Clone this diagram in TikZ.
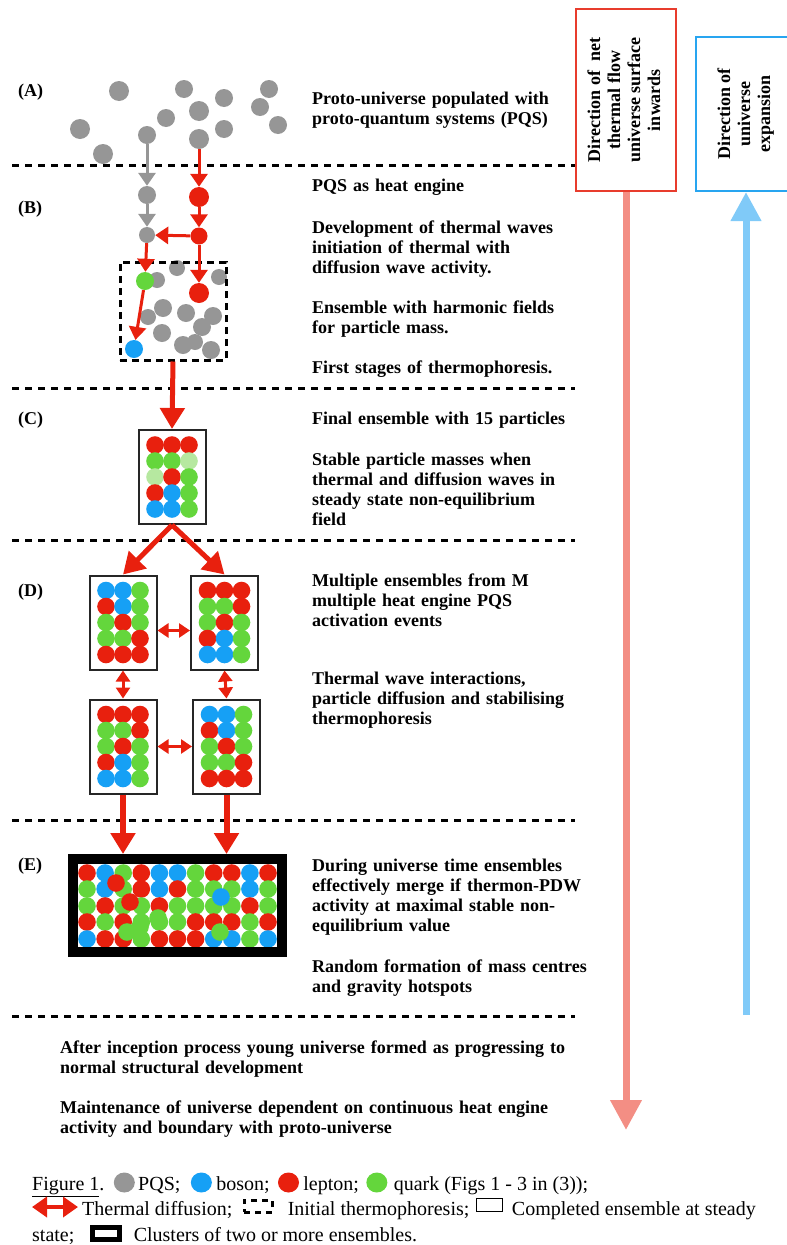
\documentclass[tikz,border=0pt]{standalone}
\usepackage{fontspec}
\setmainfont{Liberation Serif}
\usepackage{graphicx}
\usetikzlibrary{arrows.meta,positioning,shapes.geometric}

\definecolor{pqsgray}{RGB}{150,150,150}
\definecolor{boson}{RGB}{22,160,245}
\definecolor{lepton}{RGB}{232,32,14}
\definecolor{quark}{RGB}{100,214,60}
\definecolor{paleq}{RGB}{182,232,160}
\definecolor{flowred}{RGB}{232,60,45}
\definecolor{flowpink}{RGB}{243,142,132}
\definecolor{expblue}{RGB}{40,165,240}
\definecolor{skyblue}{RGB}{128,202,248}

% one ensemble: 5 rows of 3 particles, given row by row
\newcommand{\ensdots}[2]{%
  \foreach \col [count=\k from 0] in {#2} {%
    \pgfmathtruncatemacro{\rw}{int(\k/3)}%
    \pgfmathtruncatemacro{\cl}{\k-3*\rw}%
    \fill[\col] (#1) ++(\cl*17-17,\rw*16-32) circle (8.8pt);
  }}
% one row of the merged cluster
\newcommand{\mergedrow}[2]{%
  \foreach \col [count=\k from 0] in {#2} {\fill[\col] (87+\k*18.1,#1) circle (8.8pt);}}

\begin{document}
\begin{tikzpicture}[x=1pt, y=-1pt, >=Stealth,
    part/.style={circle, inner sep=0pt, minimum size=18pt},
    pqsflow/.style={draw=pqsgray, line width=3pt, -{Triangle[width=17pt,length=13pt]}},
    heat/.style={draw=lepton, line width=3pt, -{Triangle[width=17pt,length=13pt]}},
    feed/.style={draw=lepton, line width=5pt, -{Triangle[width=24pt,length=21pt]}},
    diffuse/.style={draw=lepton, line width=3pt, {Triangle[width=14pt,length=11pt]}-{Triangle[width=14pt,length=11pt]}},
    divider/.style={line width=3pt, dash pattern=on 7pt off 6pt},
    ensbox/.style={draw=black!85, line width=2pt, minimum width=67pt, minimum height=94pt, inner sep=0pt},
    desc/.style={font=\bfseries\fontsize{18}{20}\selectfont, text width=300pt, align=left, anchor=base west, inner sep=0pt},
    stage/.style={font=\bfseries\fontsize{18}{20}\selectfont, anchor=base west, inner sep=0pt},
    captext/.style={font=\fontsize{20}{25}\selectfont, inner sep=0pt, anchor=base west},
    keydot/.style={ellipse, inner sep=0pt, minimum width=21pt, minimum height=20pt, anchor=west}]
    \useasboundingbox (0,0) rectangle (787,1245);

    % Stage separators
    \foreach \yy in {165,388,540,820,1016}
        \draw[divider] (12,\yy) -- (575,\yy);

    % Stage labels
    \node[stage] (la) at (18,96) {(A)};
    \node[stage] (lb) at (18,213) {(B)};
    \node[stage] (lc) at (18,424) {(C)};
    \node[stage] (ld) at (18,596) {(D)};
    \node[stage] (le) at (18,870) {(E)};

    % (A) proto-universe
    \foreach \px/\py/\pr in {119/91/10, 184/89/9, 269/89/9, 224/98/9, 199/111/10, 260/107/9,
                             166/118/9, 278/125/9, 80/129/10, 224/129/9, 103/154/10}
        \fill[pqsgray] (\px,\py) circle (\pr pt);
    \node[part, fill=pqsgray] (pqsl) at (147,135) {};
    \node[part, fill=pqsgray, minimum size=20pt] (pqsr) at (199,139) {};

    % (B) heat engine and thermophoresis
    \foreach \px/\py/\pr in {177/268/8, 219/277/8, 157/280/8, 163/308/9, 186/313/9, 213/316/9,
                             148/317/8, 202/327/9, 162/333/9, 195/342/8, 183/345/9, 211/350/9}
        \fill[pqsgray] (\px,\py) circle (\pr pt);
    \node[part, fill=pqsgray] (engg) at (147,195) {};
    \node[part, fill=lepton, minimum size=20pt] (engr) at (199,197) {};
    \node[part, fill=pqsgray, minimum size=16pt] (wavg) at (147,235) {};
    \node[part, fill=lepton, minimum size=17pt] (wavr) at (199,236) {};
    \node[part, fill=lepton, minimum size=20pt] (massr) at (199,293) {};
    \node[part, fill=quark] (massq) at (145,281) {};
    \node[part, fill=boson] (massb) at (134,349) {};
    \node[draw, line width=3pt, dash pattern=on 7pt off 5pt, minimum width=106pt, minimum height=98pt] (thermo) at (173,311) {};

    \draw[pqsflow] (pqsl) -- (engg);
    \draw[pqsflow] (engg) -- (wavg);
    \draw[heat] (pqsr) -- (engr);
    \draw[heat] (engr) -- (wavr);
    \draw[heat] (wavr) -- (wavg);
    \draw[heat] (wavr) -- (massr);
    \draw[heat] (wavg) -- (massq);
    \draw[heat] (massq) -- (massb);

    % (C) final ensemble
    \node[ensbox] (final) at (172,477) {};
    \ensdots{final}{lepton,lepton,lepton, quark,quark,paleq, paleq,lepton,quark, lepton,boson,quark, boson,boson,quark}
    \draw[feed] (thermo.south) -- (final.north);

    % (D) multiple ensembles
    \node[ensbox] (tl) at (123,622.5) {};
    \node[ensbox] (tr) at (224.5,622.5) {};
    \node[ensbox] (bl) at (123,746.5) {};
    \node[ensbox] (br) at (226.5,746.5) {};
    \ensdots{tl}{boson,boson,quark, lepton,boson,quark, quark,lepton,quark, quark,quark,lepton, lepton,lepton,lepton}
    \ensdots{tr}{lepton,lepton,lepton, quark,quark,lepton, quark,lepton,quark, lepton,boson,quark, boson,boson,quark}
    \ensdots{bl}{lepton,lepton,lepton, quark,quark,lepton, quark,lepton,quark, lepton,boson,quark, boson,boson,quark}
    \ensdots{br}{boson,boson,quark, lepton,boson,quark, quark,lepton,quark, quark,quark,lepton, lepton,lepton,lepton}
    \draw[feed] (final.south) -- (tl.north);
    \draw[feed] (final.south) -- (tr.north);
    \draw[diffuse] ([yshift=-8pt]tl.east) -- ([yshift=-8pt]tr.west);
    \draw[diffuse] (bl.east) -- (br.west);
    \draw[diffuse] (tl.south) -- (bl.north);
    \draw[diffuse] (tr.south) -- (br.north);

    % (E) merged cluster
    \mergedrow{873}{lepton,boson,quark,lepton,boson,boson,quark,lepton,lepton,boson,lepton}
    \mergedrow{889}{quark,boson,quark,lepton,boson,lepton,quark,quark,quark,boson,quark}
    \mergedrow{906}{quark,lepton,quark,quark,lepton,quark,quark,quark,quark,lepton,quark}
    \mergedrow{922}{lepton,quark,lepton,quark,quark,quark,lepton,lepton,lepton,quark,lepton}
    \mergedrow{939}{boson,lepton,lepton,quark,lepton,lepton,lepton,boson,boson,quark,boson}
    \foreach \px/\py/\pc in {116/883/lepton, 130/902/lepton, 221/897/boson, 158/918/quark,
                             140/927/quark, 127/932/quark, 220/932/quark}
        \fill[\pc] (\px,\py) circle (8.8pt);
    \node[draw, line width=10pt, minimum width=209pt, minimum height=93pt, inner sep=0pt] (merged) at (177.5,905.5) {};
    \draw[feed, line width=6pt] (bl.south) -- (bl.south |- merged.north);
    \draw[feed, line width=6pt] (br.south) -- (br.south |- merged.north);

    % Stage descriptions
    \node[desc] (atext) at (312,104) {Proto-universe populated with\\proto-quantum systems (PQS)};
    \node[desc] (btext1) at (312,191) {PQS as heat engine};
    \node[desc] (btext2) at (312,233) {Development of thermal waves\\initiation of thermal with\\diffusion wave activity.};
    \node[desc] (btext3) at (312,313) {Ensemble with harmonic fields\\for particle mass.};
    \node[desc] (btext4) at (312,373) {First stages of thermophoresis.};
    \node[desc] (ctext1) at (312,424) {Final ensemble with 15 particles};
    \node[desc] (ctext2) at (312,465) {Stable particle masses when\\thermal and diffusion waves in\\steady state non-equilibrium\\field};
    \node[desc] (dtext1) at (312,586) {Multiple ensembles from M\\multiple heat engine PQS\\activation events};
    \node[desc] (dtext2) at (312,684) {Thermal wave interactions,\\particle diffusion and stabilising\\thermophoresis};
    \node[desc] (etext1) at (312,871) {During universe time ensembles\\effectively merge if thermon-PDW\\activity at maximal stable non-\\equilibrium value};
    \node[desc] (etext2) at (312,972) {Random formation of mass centres\\and gravity hotspots};
    \node[desc, text width=540pt] (endtext1) at (60,1053) {After inception process young universe formed as progressing to\\normal structural development};
    \node[desc, text width=540pt] (endtext2) at (60,1113) {Maintenance of universe dependent on continuous heat engine\\activity and boundary with proto-universe};

    % Direction boxes and arrows
    \node[draw=flowred, line width=2pt, minimum width=100pt, minimum height=182pt, inner sep=0pt,
          font=\bfseries\fontsize{18}{20}\selectfont] (flow) at (626,100)
          {\rotatebox{90}{\begin{tabular}{@{}c@{}}Direction of\ \ net\\thermal flow\\universe surface\\inwards\end{tabular}}};
    \node[draw=expblue, line width=2pt, minimum width=100pt, minimum height=154pt, inner sep=0pt,
          font=\bfseries\fontsize{18}{20}\selectfont] (expand) at (746,114)
          {\rotatebox{90}{\begin{tabular}{@{}c@{}}Direction of\\universe\\expansion\end{tabular}}\hspace{30pt}};
    \coordinate (flowend) at (626,1130);
    \coordinate (expfoot) at (746,1015);
    \draw[flowpink, line width=7pt, -{Triangle[width=30pt,length=30pt]}] (flow.south) -- (flowend);
    \draw[skyblue, line width=7pt, -{Triangle[width=29pt,length=29pt]}] (expfoot) -- (expand.south);

    % Caption and key
    \node[captext] (figno) at (32,1190) {\underline{Figure 1}.};
    \node[keydot, fill=pqsgray] (keypqs) at ([xshift=9pt,yshift=7.5pt]figno.base east) {};
    \node[captext] (pqsname) at ([xshift=3pt]keypqs.east |- figno.base) {PQS;};
    \node[keydot, fill=boson] (keyboson) at ([xshift=10pt,yshift=7.5pt]pqsname.base east) {};
    \node[captext] (bosonname) at ([xshift=4pt]keyboson.east |- figno.base) {boson;};
    \node[keydot, fill=lepton] (keylepton) at ([xshift=8pt,yshift=7.5pt]bosonname.base east) {};
    \node[captext] (leptonname) at ([xshift=4pt]keylepton.east |- figno.base) {lepton;};
    \node[keydot, fill=quark] (keyquark) at ([xshift=7pt,yshift=7.5pt]leptonname.base east) {};
    \node[captext] (quarkname) at ([xshift=6pt]keyquark.east |- figno.base) {quark (Figs 1 - 3 in (3));};

    \coordinate (keyarrowL) at (32,1207);
    \coordinate (keyarrowR) at (78,1207);
    \draw[draw=lepton, line width=4pt, {Triangle[width=20pt,length=15pt]}-{Triangle[width=20pt,length=15pt]}] (keyarrowL) -- (keyarrowR);
    \node[captext] (diffname) at (82,1215) {Thermal diffusion;};
    \node[draw, line width=3pt, dash pattern=on 6pt off 5pt, minimum width=28pt, minimum height=12pt,
          inner sep=0pt, anchor=west] (keythermo) at ([xshift=10pt,yshift=9pt]diffname.base east) {};
    \node[captext] (thermoname) at ([xshift=14pt]keythermo.east |- diffname.base) {Initial thermophoresis;};
    \node[draw, line width=1.2pt, minimum width=26pt, minimum height=13pt, inner sep=0pt,
          anchor=west] (keyens) at ([xshift=6pt,yshift=10pt]thermoname.base east) {};
    \node[captext] (ensname) at ([xshift=9pt]keyens.east |- diffname.base) {Completed ensemble at steady};

    \node[captext] (statename) at (32,1241) {state;};
    \node[draw, line width=5pt, minimum width=27pt, minimum height=12pt, inner sep=0pt,
          anchor=west] (keyclus) at ([xshift=15pt,yshift=7.5pt]statename.base east) {};
    \node[captext] (clusname) at ([xshift=12pt]keyclus.east |- statename.base) {Clusters of two or more ensembles.};
\end{tikzpicture}
\end{document}
